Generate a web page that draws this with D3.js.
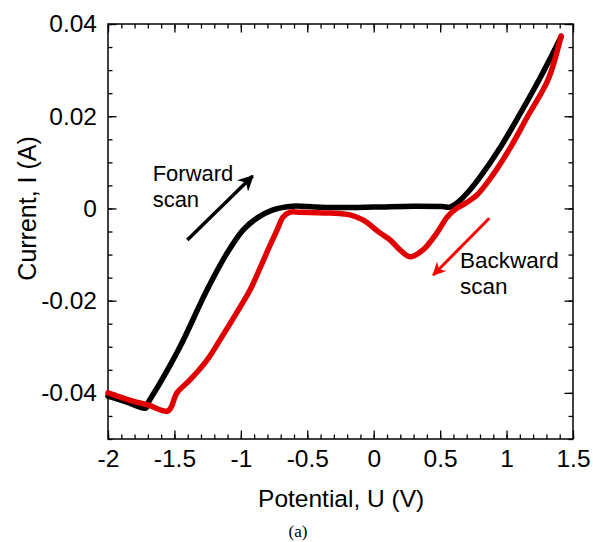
<!DOCTYPE html>
<html>
<head>
<meta charset="utf-8">
<script src="https://cdn.jsdelivr.net/npm/d3@7"></script>
<style>
  body { margin: 0; background: #fff; }
  svg { display: block; font-family: "Liberation Sans", Arial, sans-serif; }
</style>
</head>
<body>
<svg id="chart" width="593" height="542"></svg>
<script>
// forward scan (black), potential in V, current in A
const forwardU = [-2.0, -1.857, -1.714, -1.699, -1.609, -1.458, -1.255, -1.104, -0.984, -0.879,
  -0.758, -0.608, -0.5, -0.3, 0.0, 0.3, 0.52, 0.574, 0.627, 0.702,
  0.800, 0.950, 1.101, 1.252, 1.410];
const forwardI = [-0.0407, -0.0420, -0.0433, -0.0422, -0.0379, -0.0300, -0.0177, -0.0097, -0.0047, -0.0021,
  -0.0003, 0.0005, 0.0004, 0.0002, 0.0003, 0.0005, 0.0004, 0.0003, 0.0012, 0.0033,
  0.0068, 0.0131, 0.0205, 0.0283, 0.0372];

// backward scan (red)
const backwardU = [1.410, 1.312, 1.161, 1.018, 0.890, 0.777, 0.695, 0.619, 0.552, 0.476,
  0.371, 0.273, 0.198, 0.123, 0.047, -0.081, -0.179, -0.329, -0.555, -0.630,
  -0.683, -0.728, -0.796, -0.863, -0.931, -1.006, -1.157, -1.255, -1.383, -1.481,
  -1.548, -1.699, -1.812, -2.0];
const backwardI = [0.0374, 0.0279, 0.0201, 0.0127, 0.0070, 0.0029, 0.0012, -0.0001, -0.0019, -0.0053,
  -0.0090, -0.0105, -0.0090, -0.0068, -0.0053, -0.0025, -0.0014, -0.0010, -0.0008, -0.0008,
  -0.0019, -0.0047, -0.0090, -0.0134, -0.0177, -0.0214, -0.0285, -0.0329, -0.0372, -0.0400,
  -0.0439, -0.0426, -0.0418, -0.0400];

const xTicks = [-2, -1.5, -1, -0.5, 0, 0.5, 1, 1.5];
const xTickLabels = ["-2", "-1.5", "-1", "-0.5", "0", "0.5", "1", "1.5"];
const yTicks = [-0.04, -0.02, 0, 0.02, 0.04];
const yTickLabels = ["-0.04", "-0.02", "0", "0.02", "0.04"];

const svg = d3.select("#chart");
const margin = { top: 24, right: 20, bottom: 103, left: 108 };
const width = 593 - margin.left - margin.right;
const height = 542 - margin.top - margin.bottom;

const x = d3.scaleLinear().domain([-2, 1.5]).range([0, width]);
const y = d3.scaleLinear().domain([-0.05, 0.04]).range([height, 0]);

const g = svg.append("g").attr("transform", `translate(${margin.left},${margin.top})`);

// minor ticks
const xMinor = d3.range(-2, 1.5001, 0.1);
const yMinor = d3.range(-0.05, 0.04001, 0.005);

function tickAxis(axis, pos, vals, size) {
  const a = g.append("g").attr("transform", pos)
    .call(axis.tickValues(vals).tickSize(size).tickFormat(""));
  a.select(".domain").remove();
  a.selectAll("line").attr("stroke", "#000").attr("stroke-width", 1.3);
  return a;
}
tickAxis(d3.axisBottom(x), `translate(0,${height})`, xMinor, -4.5);
tickAxis(d3.axisTop(x), "translate(0,0)", xMinor, -4.5);
tickAxis(d3.axisLeft(y), "translate(0,0)", yMinor, -4.5);
tickAxis(d3.axisRight(y), `translate(${width},0)`, yMinor, -4.5);
tickAxis(d3.axisTop(x), "translate(0,0)", xTicks, -8.5);
tickAxis(d3.axisRight(y), `translate(${width},0)`, yTicks, -8.5);

// major axes with labels
const xAxis = g.append("g").attr("transform", `translate(0,${height})`)
  .call(d3.axisBottom(x).tickValues(xTicks).tickSize(-8.5).tickPadding(11)
    .tickFormat((d, i) => xTickLabels[i]));
const yAxis = g.append("g")
  .call(d3.axisLeft(y).tickValues(yTicks).tickSize(-8.5).tickPadding(11)
    .tickFormat((d, i) => yTickLabels[i]));
[xAxis, yAxis].forEach(a => {
  a.select(".domain").remove();
  a.selectAll("line").attr("stroke", "#000").attr("stroke-width", 1.3);
  a.selectAll("text").attr("font-size", 24.5).attr("fill", "#000")
    .attr("font-family", "Liberation Sans, Arial, sans-serif");
});

// frame
g.append("rect").attr("width", width).attr("height", height)
  .attr("fill", "none").attr("stroke", "#000").attr("stroke-width", 1.5);

// curves
const line = d3.line()
  .x(d => x(d[0])).y(d => y(d[1]))
  .curve(d3.curveCatmullRom.alpha(0.5));

g.append("path")
  .datum(forwardU.map((u, i) => [u, forwardI[i]]))
  .attr("d", line)
  .attr("fill", "none").attr("stroke", "#000").attr("stroke-width", 5.5)
  .attr("stroke-linejoin", "round").attr("stroke-linecap", "round");

g.append("path")
  .datum(backwardU.map((u, i) => [u, backwardI[i]]))
  .attr("d", line)
  .attr("fill", "none").attr("stroke", "#e00000").attr("stroke-width", 5.5)
  .attr("stroke-linejoin", "round").attr("stroke-linecap", "round");

// arrows
const defs = svg.append("defs");
[["arrBlack", "#000"], ["arrRed", "#ff0000"]].forEach(([id, c]) => {
  defs.append("marker").attr("id", id)
    .attr("viewBox", "0 0 10 10").attr("refX", 9).attr("refY", 5)
    .attr("markerWidth", 5).attr("markerHeight", 4.5).attr("orient", "auto")
    .attr("markerUnits", "strokeWidth")
    .append("path").attr("d", "M0,0 L10,5 L0,10 L3,5 Z").attr("fill", c);
});

g.append("line")
  .attr("x1", x(-1.403)).attr("y1", y(-0.00684))
  .attr("x2", x(-0.911)).attr("y2", y(0.00704))
  .attr("stroke", "#000").attr("stroke-width", 3.5)
  .attr("marker-end", "url(#arrBlack)");

g.append("line")
  .attr("x1", x(0.870)).attr("y1", y(-0.00214))
  .attr("x2", x(0.448)).attr("y2", y(-0.01443))
  .attr("stroke", "#ff0000").attr("stroke-width", 3)
  .attr("marker-end", "url(#arrRed)");

// annotation text
const fwd = g.append("text").attr("x", x(-1.664)).attr("y", y(0.00595))
  .attr("font-size", 22).attr("fill", "#000");
fwd.append("tspan").text("Forward");
fwd.append("tspan").attr("x", x(-1.664)).attr("dy", 26).text("scan");

const bwd = g.append("text").attr("x", x(0.649)).attr("y", y(-0.0130))
  .attr("font-size", 22.5).attr("fill", "#000");
bwd.append("tspan").text("Backward");
bwd.append("tspan").attr("x", x(0.649)).attr("dy", 26).text("scan");

// axis titles
svg.append("text")
  .attr("x", margin.left + x(-0.245)).attr("y", 507)
  .attr("text-anchor", "middle").attr("font-size", 24.5)
  .text("Potential, U (V)");

svg.append("text")
  .attr("transform", `translate(36,${margin.top + y(-0.0)}) rotate(-90)`)
  .attr("text-anchor", "middle").attr("font-size", 25)
  .text("Current, I (A)");

svg.append("text")
  .attr("x", 298).attr("y", 537)
  .attr("text-anchor", "middle").attr("font-size", 17)
  .attr("font-family", "Liberation Serif, Times New Roman, serif")
  .text("(a)");
</script>
</body>
</html>
